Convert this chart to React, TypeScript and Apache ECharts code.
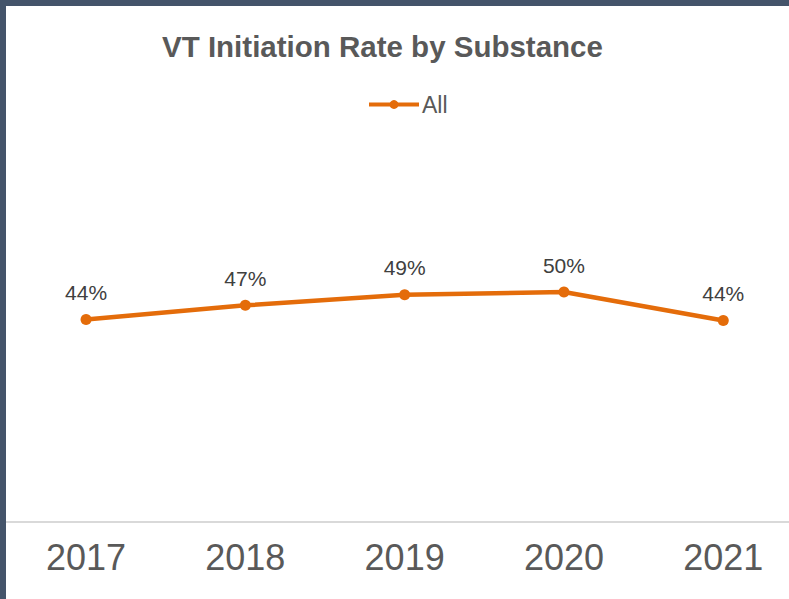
import React, { useEffect, useRef } from "react";
import * as echarts from "echarts";

const years = ["2017", "2018", "2019", "2020", "2021"];
const allRates = [0.44, 0.471, 0.494, 0.5, 0.438];
const seriesName = "All";
const chartTitle = "VT Initiation Rate by Substance";

export default function App() {
  const ref = useRef<HTMLDivElement>(null);
  useEffect(() => {
    if (!ref.current) return;
    const chart = echarts.init(ref.current, undefined, { renderer: "svg" });
    const font = "'Liberation Sans', Arial, sans-serif";
    chart.setOption({
      animation: false,
      backgroundColor: "#ffffff",
      textStyle: { fontFamily: font },
      title: {
        text: chartTitle,
        left: 162,
        top: 31,
        padding: 0,
        textStyle: { fontFamily: font, fontSize: 29.5, fontWeight: "bold", color: "#595959" },
      },
      legend: {
        data: [seriesName],
        left: 367,
        top: 93,
        padding: 0,
        itemWidth: 50,
        itemHeight: 11,
        itemGap: 4,
        lineStyle: { width: 4 },
        textStyle: { fontFamily: font, fontSize: 23, color: "#595959", padding: [0, 0, 0, -2] },
      },
      grid: { left: 6.4, width: 796.5, top: 62, bottom: 77, containLabel: false },
      xAxis: {
        type: "category",
        data: years,
        boundaryGap: true,
        axisLine: { show: true, lineStyle: { color: "#D9D9D9", width: 2 } },
        axisTick: { show: false },
        axisLabel: { fontFamily: font, fontSize: 36, color: "#595959", margin: 17 },
        splitLine: { show: false },
      },
      yAxis: {
        type: "value",
        min: 0,
        max: 1,
        show: false,
        splitLine: { show: false },
      },
      graphic: [
        { type: "rect", left: 0, top: 0, shape: { width: 6, height: 599 }, style: { fill: "#44546A" }, z: 100 },
        { type: "rect", left: 0, top: 0, shape: { width: 810, height: 6 }, style: { fill: "#44546A" }, z: 100 },
      ],
      series: [
        {
          name: seriesName,
          type: "line",
          data: allRates,
          symbol: "circle",
          symbolSize: 11,
          lineStyle: { color: "#E46C0A", width: 4.5 },
          itemStyle: { color: "#E46C0A" },
          label: {
            show: true,
            position: "top",
            distance: 11,
            fontFamily: font,
            fontSize: 21,
            color: "#404040",
            formatter: (p: any) => Math.round(p.value * 100) + "%",
          },
        },
      ],
    });
    return () => chart.dispose();
  }, []);
  return (
    <div style={{ position: "fixed", left: 0, top: 0, width: 789, height: 599, overflow: "hidden" }}>
      <div ref={ref} style={{ width: 810, height: 599 }} />
    </div>
  );
}
